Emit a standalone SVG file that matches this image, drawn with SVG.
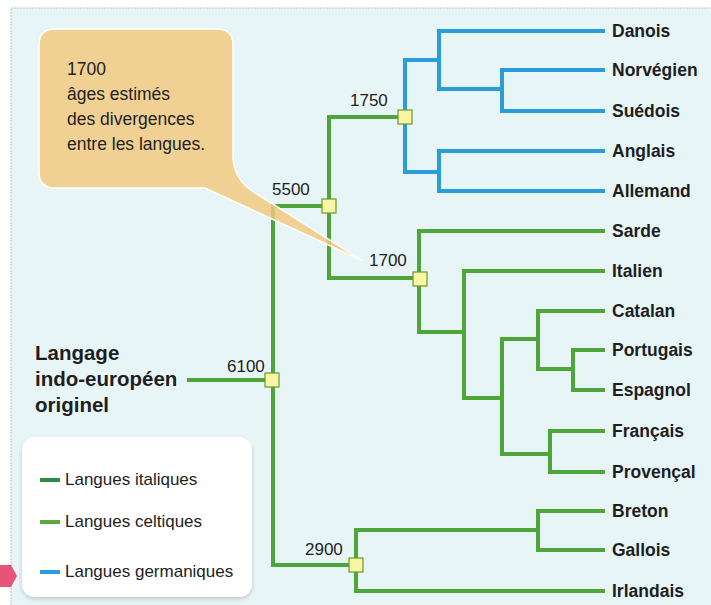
<svg xmlns="http://www.w3.org/2000/svg" width="711" height="605" viewBox="0 0 711 605">
<style>
.ln{fill:none;stroke-width:4;stroke-linejoin:miter;stroke-linecap:butt}
.g{stroke:#4ea63a}
.b{stroke:#2b9bd9}
.leaf{font-family:"Liberation Sans",Arial,sans-serif;font-weight:bold;font-size:17.5px;fill:#1e1e1e}
.num{font-family:"Liberation Sans",Arial,sans-serif;font-size:17px;fill:#1e1e1e}
.box{fill:#f8f6a2;stroke:#6a9a2a;stroke-width:1.2}
.bub{font-family:"Liberation Sans",Arial,sans-serif;font-size:17.5px;fill:#222}
.leg{font-family:"Liberation Sans",Arial,sans-serif;font-size:17px;fill:#222}
</style>
<defs>
<filter id="sh" x="-10%" y="-10%" width="120%" height="130%"><feDropShadow dx="0" dy="2" stdDeviation="2" flood-color="#000" flood-opacity="0.18"/></filter>
</defs>
<rect x="0" y="0" width="711" height="605" fill="#ffffff"/>
<rect x="11" y="8" width="710" height="610" fill="#e7f5f7" stroke="#b9c4c6" stroke-width="1" stroke-dasharray="2,1"/>
<g id="connectors">
<path class="ln b" d="M605,31 H439 V89 H502"/>
<path class="ln b" d="M605,70 H502 V111 H605"/>
<path class="ln b" d="M439,60 H405 V172 H439"/>
<path class="ln b" d="M605,151 H439 V191 H605"/>
<path class="ln g" d="M187,380 H272"/>
<path class="ln g" d="M405,117 H329 V278 H420"/>
<path class="ln g" d="M329,206 H273 V565 H356"/>
<path class="ln g" d="M605,231 H419 V332 H464"/>
<path class="ln g" d="M605,271 H464 V398 H502"/>
<path class="ln g" d="M538,339 H502 V454 H550"/>
<path class="ln g" d="M605,311 H538 V369 H573"/>
<path class="ln g" d="M605,350 H573 V390 H605"/>
<path class="ln g" d="M605,431 H550 V472 H605"/>
<path class="ln g" d="M538,530 H356 V591 H605"/>
<path class="ln g" d="M605,511 H538 V550 H605"/>
</g>
<g id="callout">
<path d="M55,29 H217 Q233,29 233,45 V158 Q234,178 252,191 L363,261 L205,188 H55 Q39,188 39,172 V45 Q39,29 55,29 Z" fill="#f3c97d" fill-opacity="0.82" stroke="#ffffff" stroke-width="1.5"/>
<text class="bub" x="67" y="75">1700</text>
<text class="bub" x="67" y="100">âges estimés</text>
<text class="bub" x="67" y="125">des divergences</text>
<text class="bub" x="67" y="150">entre les langues.</text>
</g>
<g id="n6100"><rect class="box" x="265" y="373" width="14" height="14"/><text class="num" x="227" y="372">6100</text></g>
<g id="n5500"><rect class="box" x="322" y="199" width="14" height="14"/><text class="num" x="272" y="195">5500</text></g>
<g id="n1750"><rect class="box" x="398" y="110" width="14" height="14"/><text class="num" x="350" y="106">1750</text></g>
<g id="n1700"><rect class="box" x="413" y="272" width="14" height="14"/><text class="num" x="369" y="266">1700</text></g>
<g id="n2900"><rect class="box" x="349" y="558" width="14" height="14"/><text class="num" x="305" y="555">2900</text></g>
<g id="root"><text class="leaf" style="font-size:20.5px" x="35" y="360">Langage</text><text class="leaf" style="font-size:20.5px" x="35" y="386">indo-européen</text><text class="leaf" style="font-size:20.5px" x="35" y="412">originel</text></g>
<g id="leaves">
<text class="leaf" x="612" y="37">Danois</text>
<text class="leaf" x="612" y="76">Norvégien</text>
<text class="leaf" x="612" y="117">Suédois</text>
<text class="leaf" x="612" y="157">Anglais</text>
<text class="leaf" x="612" y="197">Allemand</text>
<text class="leaf" x="612" y="237">Sarde</text>
<text class="leaf" x="612" y="277">Italien</text>
<text class="leaf" x="612" y="317">Catalan</text>
<text class="leaf" x="612" y="356">Portugais</text>
<text class="leaf" x="612" y="396">Espagnol</text>
<text class="leaf" x="612" y="437">Français</text>
<text class="leaf" x="612" y="478">Provençal</text>
<text class="leaf" x="612" y="517">Breton</text>
<text class="leaf" x="612" y="556">Gallois</text>
<text class="leaf" x="612" y="597">Irlandais</text>
</g>
<g id="legend">
<rect x="22" y="437" width="230" height="160" rx="13" fill="#ffffff" filter="url(#sh)"/>
<path d="M40,480 H60" stroke="#2e8c42" stroke-width="4"/>
<text class="leg" x="65" y="485">Langues italiques</text>
<path d="M40,522 H60" stroke="#5aa840" stroke-width="4"/>
<text class="leg" x="65" y="527">Langues celtiques</text>
<path d="M40,572 H60" stroke="#2b9bd9" stroke-width="4"/>
<text class="leg" x="65" y="577">Langues germaniques</text>
</g>
<path id="marker-arrow" d="M0,565 H11 L17,576 L11,587 H0 Z" fill="#e5537a"/>
</svg>
